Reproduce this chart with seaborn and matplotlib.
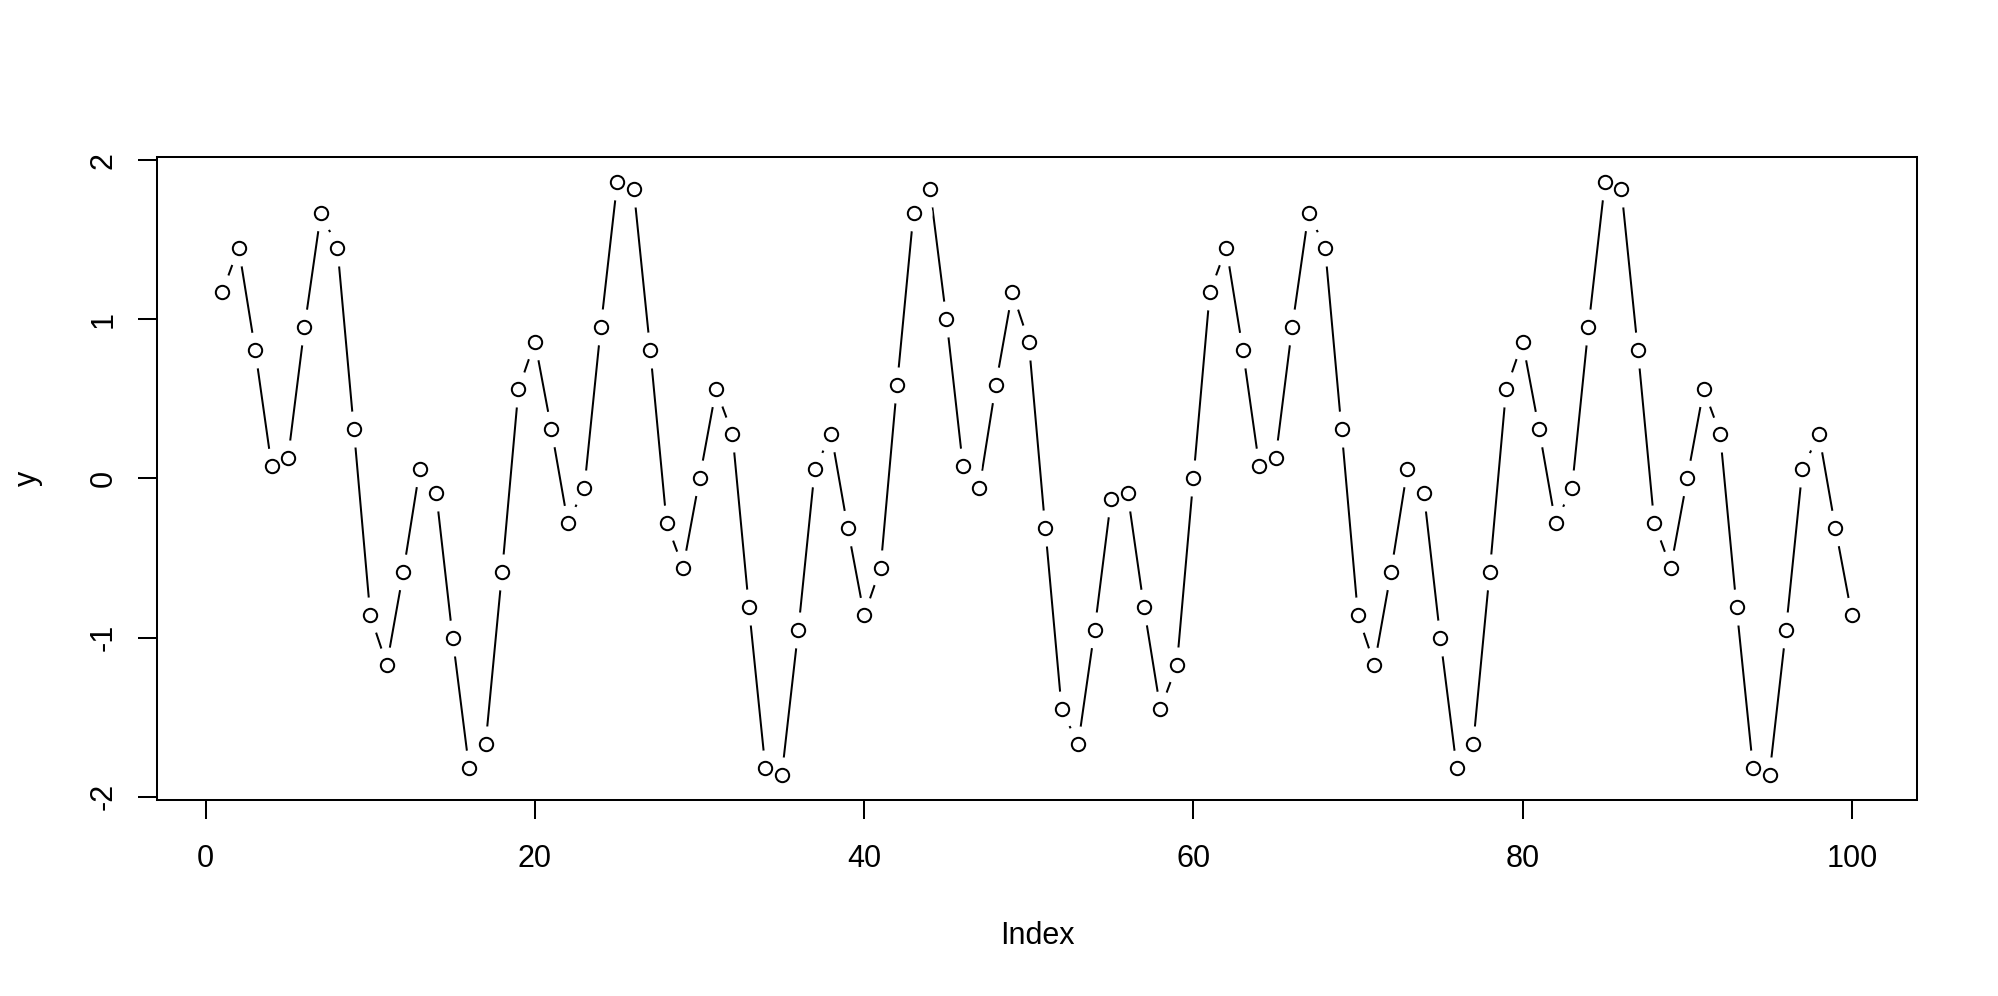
import numpy as np
import pandas as pd
import matplotlib
matplotlib.use("Agg")
import matplotlib.pyplot as plt
import seaborn as sns

# ---- data ----
index = list(range(1, 101))
y_values = [
    1.17, 1.45, 0.81, 0.08, 0.13, 0.95, 1.67, 1.45, 0.31, -0.86,
    -1.17, -0.59, 0.06, -0.09, -1.00, -1.82, -1.67, -0.59, 0.56, 0.86,
    0.31, -0.28, -0.06, 0.95, 1.86, 1.82, 0.81, -0.28, -0.56, 0.00,
    0.56, 0.28, -0.81, -1.82, -1.86, -0.95, 0.06, 0.28, -0.31, -0.86,
    -0.56, 0.59, 1.67, 1.82, 1.00, 0.08, -0.06, 0.59, 1.17, 0.86,
    -0.31, -1.45, -1.67, -0.95, -0.13, -0.09, -0.81, -1.45, -1.17, 0.00,
    1.17, 1.45, 0.81, 0.08, 0.13, 0.95, 1.67, 1.45, 0.31, -0.86,
    -1.17, -0.59, 0.06, -0.09, -1.00, -1.82, -1.67, -0.59, 0.56, 0.86,
    0.31, -0.28, -0.06, 0.95, 1.86, 1.82, 0.81, -0.28, -0.56, 0.00,
    0.56, 0.28, -0.81, -1.82, -1.86, -0.95, 0.06, 0.28, -0.31, -0.86,
]
x_ticks = [0, 20, 40, 60, 80, 100]
y_ticks = [-2, -1, 0, 1, 2]
x_label = "Index"
y_label = "y"

df = pd.DataFrame({"Index": index, "y": y_values})

sns.set_theme(style="white")
plt.rcParams["font.family"] = ["Liberation Sans", "DejaVu Sans"]

W, H = 1998, 996
fig = plt.figure(figsize=(W / 100, H / 100), dpi=100)
L, R, T, B = 157, 1917, 157, 800
ax = fig.add_axes([L / W, 1 - B / H, (R - L) / W, (B - T) / H])

# connecting line
sns.lineplot(data=df, x="Index", y="y", ax=ax, color="black", linewidth=1.45,
             zorder=1, estimator=None, sort=False)
# white gaps around points (R type="b")
ax.plot(df["Index"], df["y"], linestyle="none", marker="o", markersize=26,
        markerfacecolor="white", markeredgewidth=0, zorder=2, clip_on=False)
# open circles
ax.plot(df["Index"], df["y"], linestyle="none", marker="o", markersize=9.6,
        markerfacecolor="white", markeredgecolor="black", markeredgewidth=1.45,
        zorder=3, clip_on=False)

ax.set_xlim(-2.96, 103.96)
ax.set_ylim(-2.02, 2.02)
ax.set_xticks(x_ticks)
ax.set_yticks(y_ticks)
ax.set_yticklabels([str(v) for v in y_ticks])

for s in ax.spines.values():
    s.set_visible(True)
    s.set_color("black")
    s.set_linewidth(1.45)
    s.set_zorder(4)

ax.tick_params(axis="both", which="major", direction="out", length=13.7,
               width=1.45, color="black", labelsize=22, labelcolor="black",
               bottom=True, left=True)
ax.tick_params(axis="x", pad=18)
ax.tick_params(axis="y", pad=14)
plt.setp(ax.get_yticklabels(), rotation=90, va="center", ha="right")

ax.set_xlabel(x_label, fontsize=22, color="black")
ax.set_ylabel(y_label, fontsize=22, color="black")
ax.xaxis.label.set_va("center")
ax.yaxis.label.set_va("center")
ax.xaxis.set_label_coords(0.5, -(936 - B) / (B - T))
ax.yaxis.set_label_coords((28 - L) / (R - L), 0.5)
ax.grid(False)

fig.savefig("out.png", dpi=100, facecolor="white")
